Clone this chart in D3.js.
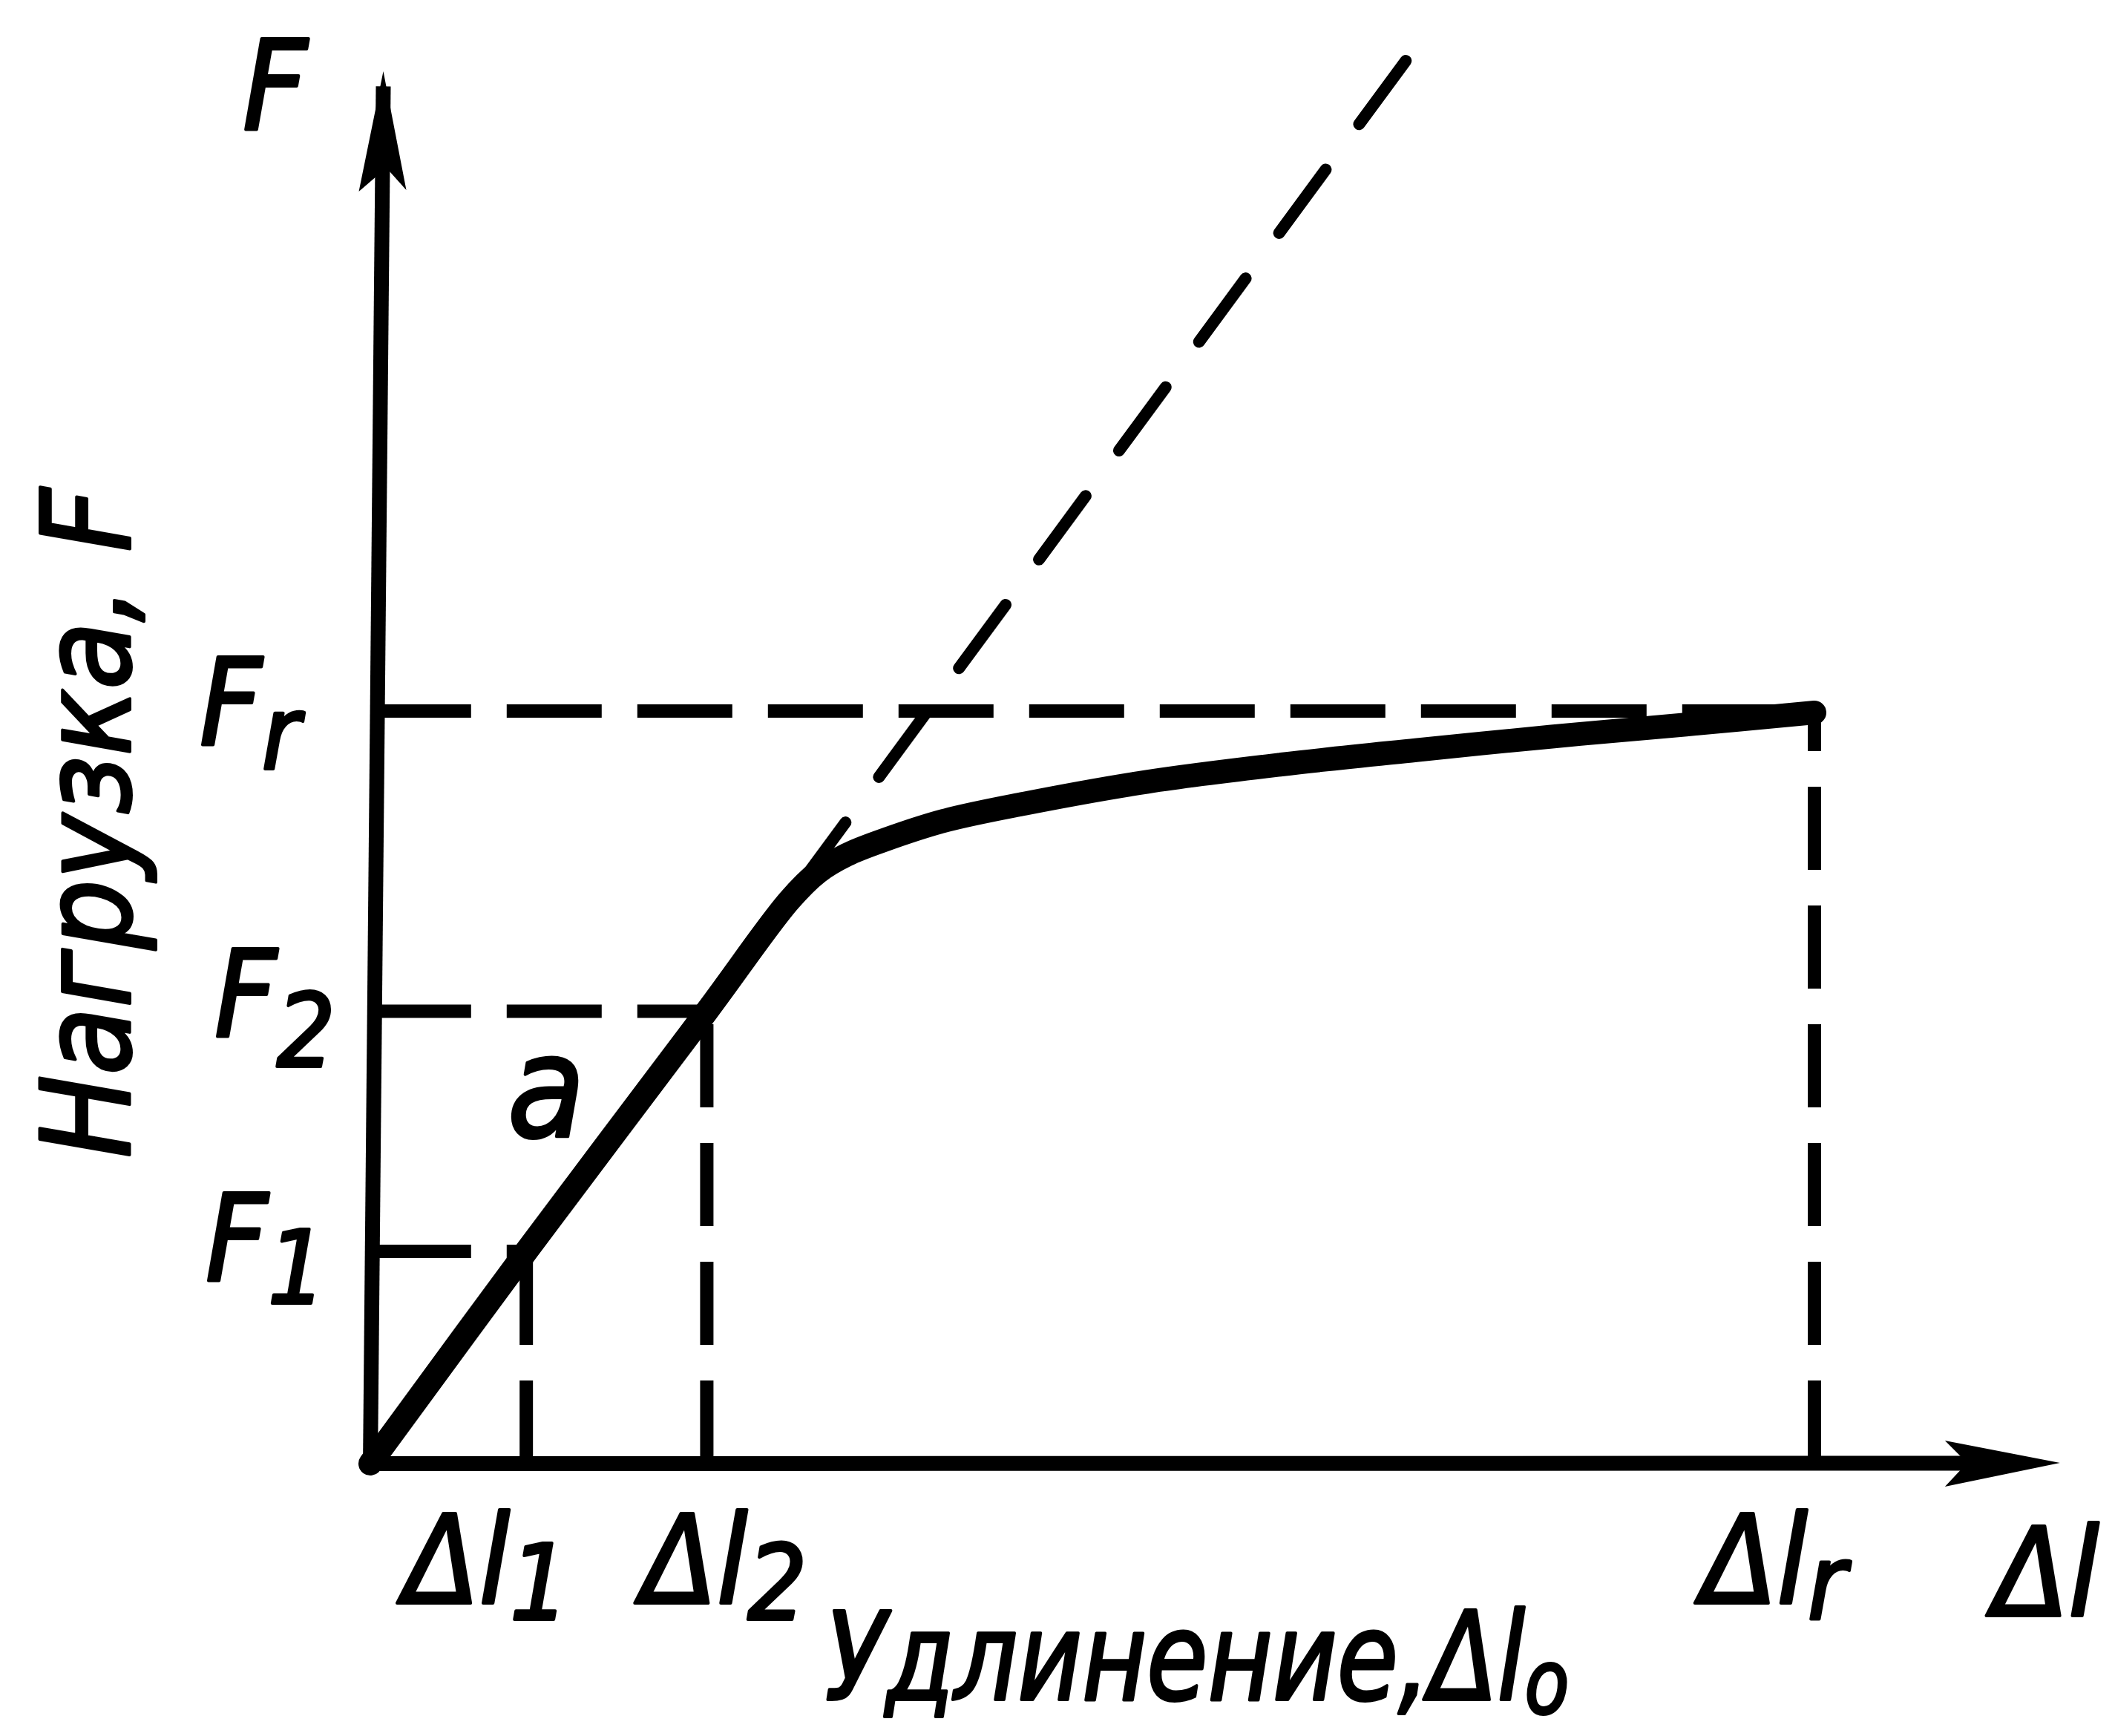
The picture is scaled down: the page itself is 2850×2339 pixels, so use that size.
<!DOCTYPE html>
<html><head><meta charset="utf-8">
<script src="https://cdn.jsdelivr.net/npm/d3@7"></script>
<style>
html,body{margin:0;padding:0;background:#fff;}
svg{display:block;}
text{font-family:"DejaVu Sans Condensed","DejaVu Sans",sans-serif;font-style:italic;fill:#000;stroke:#000;stroke-width:4;stroke-linejoin:round;}
</style></head><body>
<svg id="c" width="2850" height="2339"></svg>
<script>
// ---- data (elongation Δl in relative units, load F in relative units; Δl_r = 100, F_r = 100)
const tickSubs = ["1", "2", "r"];
const dlTicks = [10.8, 23.3, 100];
const fTicks = [28.2, 60.1, 100];
const curveDl = [0, 10.8, 23.3, 29.0, 31.0, 33.0, 35.5, 39.7, 45.3, 53.8, 63.1, 72.4, 81.8, 91.1, 100];
const curveF  = [0, 28.2, 60.1, 74.8, 78.6, 80.9, 82.8, 85.4, 87.7, 90.6, 92.9, 94.8, 96.6, 98.2, 99.8];
const guideDl = [71.7, 28.0];
const guideF  = [186.4, 72.4];
const dlAxisMax = 117;
const fAxisMax = 185;
const yTitle = "Нагрузка, F";
const xTitle = "Удлинение,Δl";
const xTitleSub = "o";
const yArrowLabel = "F";
const xArrowLabel = "Δl";
const regionLabel = "a";

const W = 2850, H = 2339;
const svg = d3.select("#c");
svg.append("rect").attr("width", W).attr("height", H).attr("fill", "#fff");

const x = d3.scaleLinear().domain([0, 100]).range([499, 2445]);
const y = d3.scaleLinear().domain([0, 100]).range([1972, 958]);
const line = d3.line().x(d => x(d[0])).y(d => y(d[1]));

// dashed guides
const g = svg.append("g").attr("stroke", "#000").attr("fill", "none");
dlTicks.forEach((dl, i) => {
  g.append("path").attr("d", line([[0.4, fTicks[i]], [dl, fTicks[i]]]))
    .attr("stroke-width", 18).attr("stroke-dasharray", "128 48");
  g.append("path").attr("d", line([[dl, 0], [dl, fTicks[i]]]))
    .attr("stroke-width", 18).attr("stroke-dasharray", "112 48");
});
// proportional extension (dashed)
g.append("path").attr("d", line(guideDl.map((d, i) => [d, guideF[i]])))
  .attr("stroke-width", 16).attr("stroke-linecap", "round").attr("stroke-dasharray", "106 76");

// axes
g.append("path").attr("d", line([[0, -0.3], [0.9, fAxisMax - 2]])).attr("stroke-width", 20);
g.append("path").attr("d", line([[-0.6, 0], [dlAxisMax - 4, 0.05]])).attr("stroke-width", 20);
// arrowheads
const yt = [x(0.9), y(fAxisMax)];
svg.append("path").attr("fill", "#000")
  .attr("d", `M${yt[0]},${yt[1]} L${yt[0]+31},${yt[1]+160} L${yt[0]+4},${yt[1]+130} L${yt[0]-33},${yt[1]+162} Z`);
const xt = [x(dlAxisMax), y(0.1)];
svg.append("path").attr("fill", "#000")
  .attr("d", `M${xt[0]},${xt[1]} L${xt[0]-155},${xt[1]+32} L${xt[0]-125},${xt[1]} L${xt[0]-155},${xt[1]-30} Z`);

// main curve
svg.append("path")
  .attr("d", d3.line().x(d => x(d[0])).y(d => y(d[1])).curve(d3.curveCatmullRom.alpha(0.5))(curveDl.map((d, i) => [d, curveF[i]])))
  .attr("fill", "none").attr("stroke", "#000").attr("stroke-width", 32)
  .attr("stroke-linecap", "round").attr("stroke-linejoin", "round");

// labels
function sublabel(tx, ty, main, sub, size, subSize, dy) {
  const t = svg.append("text").attr("x", tx).attr("y", ty).attr("font-size", size);
  t.append("tspan").text(main);
  t.append("tspan").attr("font-size", subSize).attr("dy", dy).text(sub);
  return t;
}
// F tick labels
const fLabelOff = [[-222, 40, 30], [-210, 34, 40], [-230, 46, 32]];
fTicks.forEach((f, i) => {
  sublabel(x(0) + fLabelOff[i][0], y(f) + fLabelOff[i][1], "F", tickSubs[i], 162, 138, fLabelOff[i][2]);
});
// Δl tick labels
const dlLabelOff = [-165, -88, -152];
dlTicks.forEach((dl, i) => {
  sublabel(x(dl) + dlLabelOff[i], y(0) + 188, "Δl", tickSubs[i], 165, 140, 22);
});
// axis-end labels
svg.append("text").attr("x", x(0) - 172).attr("y", y(fAxisMax) + 78).attr("font-size", 168).text(yArrowLabel);
svg.append("text").attr("x", x(dlAxisMax) - 90).attr("y", y(0) + 205).attr("font-size", 165).text(xArrowLabel);
// region label
svg.append("text").attr("x", x(9.5)).attr("y", y(43.5)).attr("font-size", 190).text(regionLabel);
// titles
const tt = svg.append("text").attr("transform", "translate(1112,2290) scale(0.9,1)").attr("font-size", 165);
tt.append("tspan").text(xTitle);
tt.append("tspan").attr("font-size", 120).attr("dy", 18).text(xTitleSub);
svg.append("text").attr("transform", `translate(175,1560) rotate(-90)`).attr("font-size", 165).text(yTitle);
</script>
</body></html>
